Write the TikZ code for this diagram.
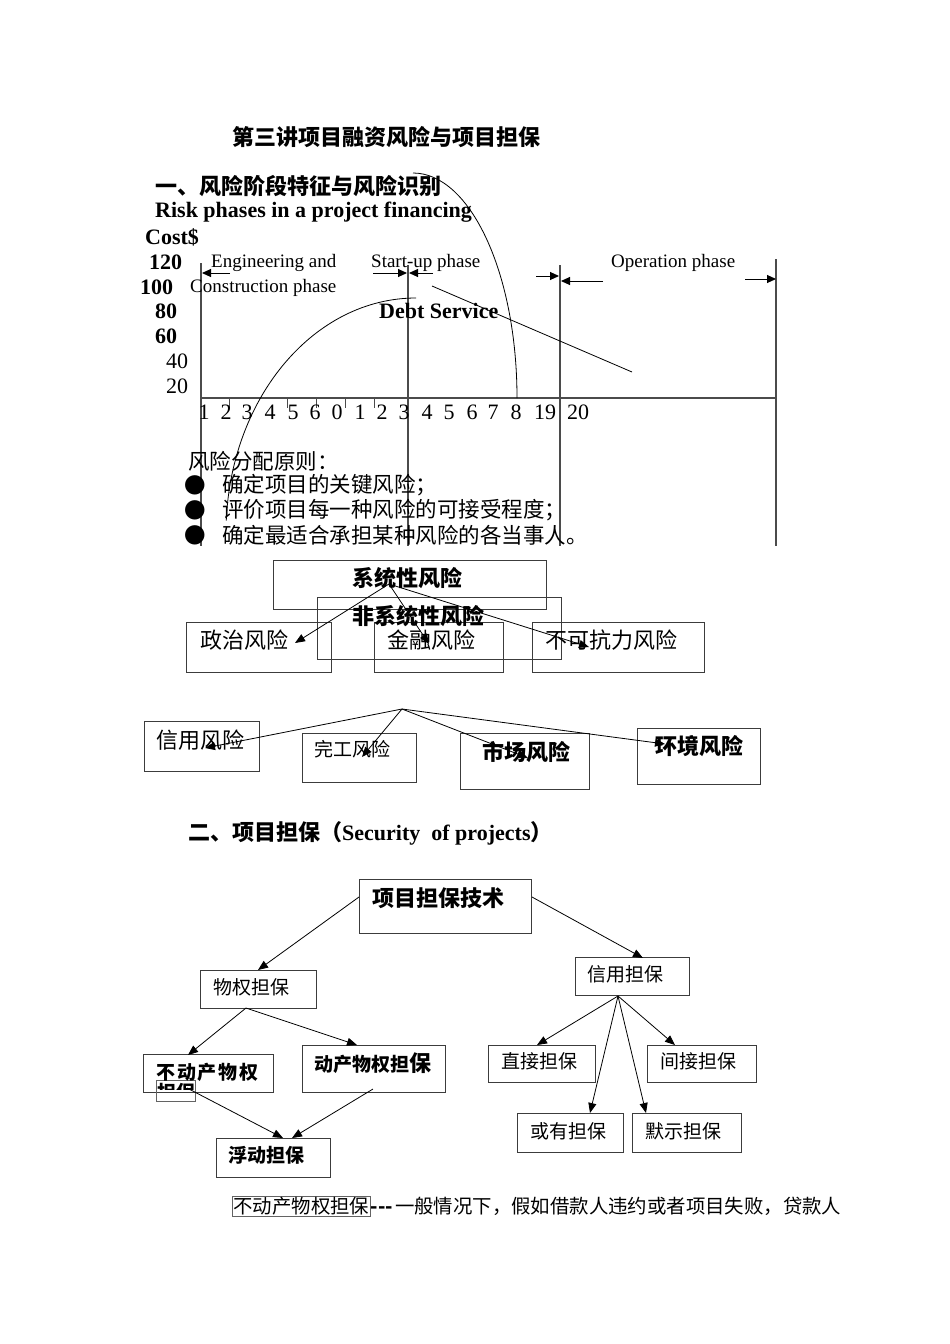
\documentclass[tikz,border=0pt]{standalone}
\usepackage{fontspec}
\setmainfont{Liberation Serif}
\newfontfamily\zhfont{Noto Sans CJK SC}
\usetikzlibrary{arrows.meta}
\definecolor{framegray}{RGB}{60,60,60}
\definecolor{axisgray}{RGB}{75,75,75}

\begin{document}
\begin{tikzpicture}[x=1pt, y=-1pt,
  >={Triangle[length=10pt,width=8pt]},
  txt/.style={inner sep=0pt, anchor=west},
  zh/.style={txt, font=\zhfont\fontsize{21.5}{24}\selectfont},
  zhm/.style={txt, font=\zhfont\fontsize{22}{26}\selectfont},
  zhb/.style={txt, font=\zhfont\bfseries\fontsize{22}{26}\selectfont},
  zhs/.style={txt, font=\zhfont\fontsize{19}{22}\selectfont},
  zhsb/.style={txt, font=\zhfont\bfseries\fontsize{19}{22}\selectfont},
  en/.style={txt, font=\fontsize{19}{22}\selectfont},
  enr/.style={txt, font=\fontsize{22}{26}\selectfont},
  enb/.style={txt, font=\bfseries\fontsize{22}{26}\selectfont},
  frm/.style={draw=framegray, line width=1.1pt, inner sep=0pt, anchor=north west},
  ax/.style={draw=axisgray, line width=1.2pt},
  crv/.style={draw=black, line width=0.8pt},
  e/.style={->, draw=black, line width=0.8pt},
  ph/.style={-{Triangle[length=9pt,width=8pt]}, draw=black, line width=1pt}
]
\useasboundingbox[fill=white] (0,0) rectangle (950,1344);

% headings
\node[zhb] (ttl) at (232,137) {第三讲项目融资风险与项目担保};
\node[zhb] (sec1) at (155,186) {一、风险阶段特征与风险识别};
\node[enb] (rsk) at (155,212) {Risk phases in a project financing};
\node[enb] (cost) at (145,237) {Cost\$};

% y labels
\foreach \x/\y/\t in {149/262/120, 140/287/100, 155/311/80, 155/336/60}
  \node[enb] (yl\t) at (\x,\y) {\t};
\foreach \x/\y/\t in {166/361/40, 166/386/20}
  \node[enr] (yl\t) at (\x,\y) {\t};

% chart frame
\draw[ax] (201,263) -- (201,546);
\draw[ax] (408,265) -- (408,546);
\draw[ax] (560,265) -- (560,546);
\draw[ax] (776,259) -- (776,546);
\draw[ax] (201,398) -- (776,398);
\foreach \x in {229,287,316,345,374}
  \draw[axisgray, line width=0.9pt] (\x,398) -- (\x,408);
\foreach \x/\t [count=\i] in {204/1,226/2,247/3,270/4,293/5,315/6,337/0,360/1,382/2,404/3,
                              427/4,449/5,472/6,493/7,516/8,545/19,578/20}
  \node[enr, anchor=center] (xl\i) at (\x,412) {\t};

% phases
\node[en] (eng) at (211,263) {Engineering and};
\node[en] (con) at (190,288) {Construction phase};
\node[en] (stu) at (371,263) {Start-up phase};
\node[en] (opn) at (611,263) {Operation phase};
\draw[ph] (230,273) -- (202,273);
\draw[ph] (373,273) -- (407,273);
\draw[ph] (433,273) -- (409,273);
\draw[ph] (536,276) -- (559,276);
\draw[ph] (603,281) -- (561,281);
\draw[ph] (745,279) -- (776,279);

% curves
\draw[crv] (416,298) arc[start angle=270, end angle=183, x radius=190, y radius=235];
\draw[crv] (413,173) arc[start angle=-90, end angle=0, x radius=104, y radius=225];
\draw[crv] (432,286) -- (632,372);
\node[enb] (dbt) at (379,311) {Debt Service};

% allocation rules
\node[zh] (rule) at (188,461) {风险分配原则：};
\foreach \y/\t [count=\i] in {485/确定项目的关键风险；, 510/评价项目每一种风险的可接受程度；,
                              535/确定最适合承担某种风险的各当事人。}{
  \node[zh, anchor=center] (dot\i) at (195,\y) {●};
  \node[zh] (pt\i) at (222,\y) {\t};
}

% risk boxes, row 1
\node[frm, minimum width=273, minimum height=49] (sysb) at (273,560) {};
\node[frm, minimum width=244, minimum height=62] (nsysb) at (317,597) {};
\node[frm, minimum width=145, minimum height=50] (zzb) at (186,622) {};
\node[frm, minimum width=129, minimum height=50] (jrb) at (374,622) {};
\node[frm, minimum width=172, minimum height=50] (bkb) at (532,622) {};
\node[zhb] (syst) at (352,578) {系统性风险};
\node[zhb] (nsyst) at (352,616) {非系统性风险};
\node[zhm] (zzt) at (200,640) {政治风险};
\node[zhm] (jrt) at (387,640) {金融风险};
\node[zhm] (bkt) at (545,640) {不可抗力风险};
\coordinate (src1) at (389,584);
\coordinate (zzin) at (295,643);
\coordinate (jrin) at (429,644);
\coordinate (bkin) at (589,647);
\draw[e] (src1) -- (zzin);
\draw[e] (src1) -- (jrin);
\draw[e] (src1) -- (bkin);

% risk boxes, row 2
\node[frm, minimum width=115, minimum height=50] (xyb) at (144,721) {};
\node[frm, minimum width=114, minimum height=49] (wgb) at (302,733) {};
\node[frm, minimum width=129, minimum height=56] (scb) at (460,733) {};
\node[frm, minimum width=123, minimum height=56] (hjb) at (637,728) {};
\node[zhm] (xyt) at (156,740) {信用风险};
\node[zhs] (wgt) at (314,749) {完工风险};
\node[zhb] (sct) at (482,752) {市场风险};
\node[zhb] (hjt) at (655,746) {环境风险};
\coordinate (src2) at (402,709);
\coordinate (xyin) at (205,748);
\coordinate (wgin) at (362,757);
\coordinate (scin) at (528,758);
\coordinate (hjin) at (665,744);
\draw[e] (src2) -- (xyin);
\draw[e] (src2) -- (wgin);
\draw[e] (src2) -- (scin);
\draw[e] (src2) -- (hjin);

% section 2
\node[zhb] (sec2) at (188,833) {二、项目担保（{\rmfamily Security\ \ of projects}）};

% security tree
\node[frm, minimum width=172, minimum height=54] (jsb) at (359,879) {};
\node[frm, minimum width=116, minimum height=38] (wqb) at (200,970) {};
\node[frm, minimum width=114, minimum height=38] (xdb) at (575,957) {};
\node[frm, minimum width=130, minimum height=38] (bdcb) at (143,1054) {};
\node[frm, minimum width=143, minimum height=47] (dcb) at (302,1045) {};
\node[frm, minimum width=107, minimum height=37] (zjb) at (488,1045) {};
\node[frm, minimum width=109, minimum height=37] (jjb) at (647,1045) {};
\node[frm, minimum width=114, minimum height=39] (fdb) at (216,1138) {};
\node[frm, minimum width=106, minimum height=39] (hyb) at (517,1113) {};
\node[frm, minimum width=109, minimum height=39] (msb) at (632,1113) {};
\node[frm, draw=framegray!80, line width=0.8pt, minimum width=39, minimum height=21] (bdcs) at (156,1080) {};
\begin{scope}
  \clip (157,1081) rectangle (194,1089);
  \node[zhsb] (bdcx) at (157,1092) {担保};
\end{scope}
\node[zhb] (jst) at (372,898) {项目担保技术};
\node[zhs] (wqt) at (213,987) {物权担保};
\node[zhs] (xdt) at (587,974) {信用担保};
\node[zhsb] (bdct) at (156,1072) {\addfontfeature{LetterSpace=10}不动产物权};
\node[zhsb] (dct) at (314,1063) {动产物权担{\fontsize{22}{26}\selectfont 保}};
\node[zhs] (zjt) at (501,1061) {直接担保};
\node[zhs] (jjt) at (660,1061) {间接担保};
\node[zhsb] (fdt) at (228,1155) {浮动担保};
\node[zhs] (hyt) at (530,1131) {或有担保};
\node[zhs] (mst) at (645,1131) {默示担保};
\coordinate (jsl) at (359,897);
\coordinate (jsr) at (532,897);
\coordinate (wqo) at (246,1008);
\coordinate (xdo) at (618,996);
\draw[e] (jsl) -- (258,970);
\draw[e] (jsr) -- (643,958);
\draw[e] (wqo) -- (188,1055);
\draw[e] (wqo) -- (357,1045);
\draw[e] (187,1088) -- (283,1138);
\draw[e] (373,1089) -- (292,1138);
\draw[e] (xdo) -- (537,1045);
\draw[e] (xdo) -- (675,1045);
\draw[e] (xdo) -- (590,1113);
\draw[e] (xdo) -- (646,1113);

% closing sentence
\node[txt, font=\zhfont\fontsize{19.4}{22}\selectfont, draw=framegray!80, line width=0.8pt, inner sep=1pt] (bdcq) at (232,1206) {不动产物权担保};
\node[txt, font=\zhfont\fontsize{19.4}{22}\selectfont] (desc) at (bdcq.east) {{\bfseries -{}-{}-}\hspace{2pt}一般情况下，假如借款人违约或者项目失败，贷款人};
\end{tikzpicture}
\end{document}
